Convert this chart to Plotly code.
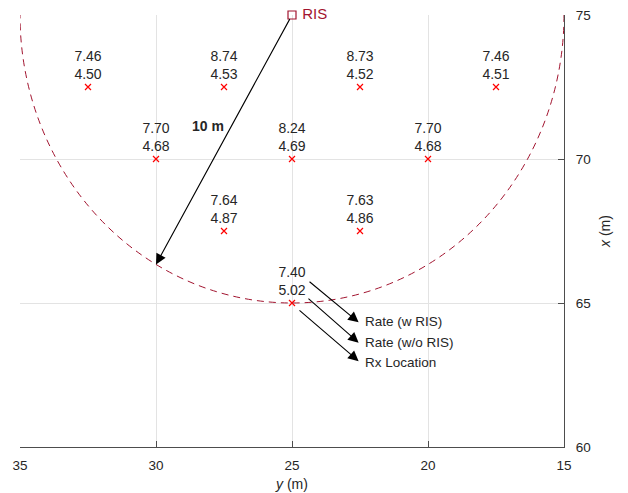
import plotly.graph_objects as go

# Rx locations (y, x) in metres and rates
rx_y = [32.5, 27.5, 22.5, 17.5, 30, 25, 20, 27.5, 22.5, 25]
rx_x = [72.5, 72.5, 72.5, 72.5, 70, 70, 70, 67.5, 67.5, 65]
rate_w_ris = ["7.46", "8.74", "8.73", "7.46", "7.70", "8.24", "7.70", "7.64", "7.63", "7.40"]
rate_wo_ris = ["4.50", "4.53", "4.52", "4.51", "4.68", "4.69", "4.68", "4.87", "4.86", "5.02"]

ris_y = [25]
ris_x = [75]
radius = 10

x_ticks = [35, 30, 25, 20, 15]
y_ticks = [60, 65, 70, 75]

CRIMSON = "#A2142F"
TXT = "#262626"
FONT = "Liberation Sans, Arial, sans-serif"

fig = go.Figure()

# dashed circle
fig.add_shape(type="circle", xref="x", yref="y",
              x0=ris_y[0] - radius, x1=ris_y[0] + radius,
              y0=ris_x[0] - radius, y1=ris_x[0] + radius,
              line=dict(color=CRIMSON, width=1, dash="7px,5px"), layer="above")

labels = [f"{a}<br>{b}" for a, b in zip(rate_w_ris, rate_wo_ris)]
fig.add_trace(go.Scatter(
    x=rx_y, y=rx_x, mode="markers+text", text=labels, textposition="top center",
    textfont=dict(size=14, color=TXT, family=FONT),
    marker=dict(symbol="x-thin", size=6, line=dict(color="red", width=1.2), color="red"),
    cliponaxis=False, showlegend=False))

fig.add_trace(go.Scatter(
    x=ris_y, y=ris_x, mode="markers+text", text=[" RIS"], textposition="middle right",
    textfont=dict(size=15, color=CRIMSON, family=FONT),
    marker=dict(symbol="square-open", size=8, color=CRIMSON, line=dict(width=1.2)),
    cliponaxis=False, showlegend=False))

ann = []
# 10 m arrow
ann.append(dict(x=30.0, y=66.34, ax=25, ay=75, xref="x", yref="y", axref="x", ayref="y",
                showarrow=True, arrowhead=2, arrowsize=1.9, arrowwidth=1.1,
                arrowcolor="black", text="", standoff=0, startstandoff=3))
ann.append(dict(x=28.1, y=71.15, xref="x", yref="y", text="<b>10 m</b>", showarrow=False,
                font=dict(size=14, color=TXT, family=FONT)))

# legend-like annotation arrows
arrows = [((24.41, 65.78), (22.55, 64.33)),
          ((24.45, 65.2), (22.55, 63.62)),
          ((24.78, 64.79), (22.55, 62.98))]
for (tx, ty), (hx, hy) in arrows:
    ann.append(dict(x=hx, y=hy, ax=tx, ay=ty, xref="x", yref="y", axref="x", ayref="y",
                    showarrow=True, arrowhead=2, arrowsize=1.9, arrowwidth=1.1,
                    arrowcolor="black", text="", standoff=0))
legend_text = ["Rate (w RIS)", "Rate (w/o RIS)", "Rx Location"]
legend_y = [64.35, 63.62, 62.93]
for t, yy in zip(legend_text, legend_y):
    ann.append(dict(x=22.4, y=yy, xref="x", yref="y", text=t, showarrow=False,
                    xanchor="left", font=dict(size=13.5, color=TXT, family=FONT)))

fig.update_layout(
    width=628, height=493,
    margin=dict(l=20, r=64, t=15, b=46),
    paper_bgcolor="white", plot_bgcolor="white",
    font=dict(family=FONT, size=13, color=TXT),
    annotations=ann,
    xaxis=dict(range=[35, 15], tickvals=x_ticks, ticks="inside", ticklen=6,
               tickcolor="#4d4d4d", showline=True, linecolor="#4d4d4d", linewidth=1,
               mirror=False, showgrid=True, gridcolor="#e3e3e3", zeroline=False,
               automargin=False, ticklabelstandoff=6,
               tickfont=dict(size=13.5, color=TXT),
               title=dict(text="<i>y</i> (m)", standoff=6, font=dict(size=14, color=TXT))),
    yaxis=dict(range=[60, 75], side="right", tickvals=y_ticks, ticks="inside", ticklen=6,
               tickcolor="#4d4d4d", showline=True, linecolor="#4d4d4d", linewidth=1,
               showgrid=True, gridcolor="#e3e3e3", zeroline=False,
               automargin=False, ticklabelstandoff=8,
               tickfont=dict(size=13.5, color=TXT),
               title=dict(text="<i>x</i> (m)", standoff=10, font=dict(size=14, color=TXT))),
)

fig.write_html("out.html", config={"displayModeBar": False},
               post_script="document.body.style.margin='0';document.body.style.overflow='hidden';")
